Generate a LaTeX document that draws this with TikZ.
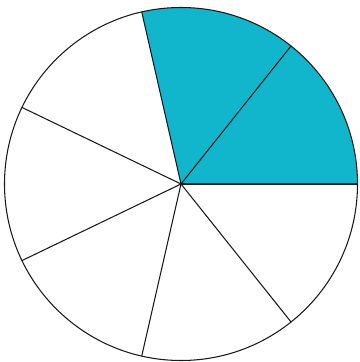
\documentclass[tikz,border=0pt]{standalone}
\usetikzlibrary{positioning}
\definecolor{slicecyan}{RGB}{18,182,204}

\begin{document}
\begin{tikzpicture}[
  x=0.02cm,y=0.02cm,
  edge/.style={draw=black!90,line width=.6pt},
  filled/.style={fill=slicecyan,draw=black!90,line width=.6pt}
]
  \useasboundingbox (0,0) rectangle (359,362);
  \coordinate (centre) at (181,178);
  \def\rad{176.5}
  % two shaded sevenths
  \fill[slicecyan] (centre) -- ++(0:\rad) arc (0:{2*360/7}:\rad) -- cycle;
  \draw[edge] (centre) circle (\rad);
  \foreach \k in {0,...,6}
  {
    \draw[edge] (centre) -- ++({\k*360/7}:\rad);
  }
\end{tikzpicture}
\end{document}
